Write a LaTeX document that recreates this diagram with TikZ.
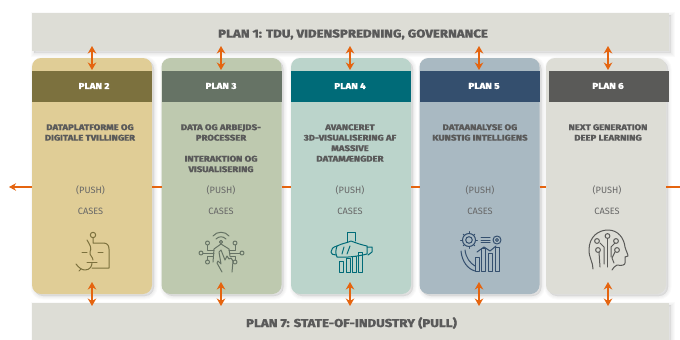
\documentclass[tikz,border=0pt]{standalone}
\usepackage{fontspec}
\setmainfont{Fira Sans}
\newfontfamily\heavyfont{Fira Sans ExtraBold}[FakeStretch=1.15,FakeBold=0.4]
\usetikzlibrary{arrows.meta,positioning,calc}
\definecolor{bandc}{HTML}{DDDDD6}
\definecolor{ca}{HTML}{E0CD96}\definecolor{ha}{HTML}{7C713E}
\definecolor{cb}{HTML}{BEC9AF}\definecolor{hb}{HTML}{667365}
\definecolor{cc}{HTML}{BBD4CB}\definecolor{hc}{HTML}{006B78}
\definecolor{cd}{HTML}{A9B9C2}\definecolor{hd}{HTML}{344F6E}
\definecolor{ce}{HTML}{DDDDD6}\definecolor{he}{HTML}{5A5A58}
\definecolor{orng}{HTML}{E5640F}
\definecolor{txt}{HTML}{5A5A5A}
\definecolor{smalltxt}{HTML}{666666}
\tikzset{
  x=1pt,y=-1pt,
  shadowlayer/.style={preaction={draw=black,fill=black,line width=#1,draw opacity=.02,fill opacity=.02,
        transform canvas={shift={(2pt,-2pt)}}}},
  softshadow/.style={shadowlayer=7pt,shadowlayer=5pt,shadowlayer=3pt,shadowlayer=1pt},
  band/.style={draw=none,fill=bandc,minimum width=637pt,minimum height=38pt,inner sep=0,softshadow,
               font=\heavyfont\fontsize{11.5}{12}\selectfont,text=txt},
  cardbox/.style={draw=none,rounded corners=9pt,minimum width=120pt,minimum height=236pt,inner sep=0,softshadow},
  headbox/.style={draw=none,minimum width=120pt,minimum height=30.5pt,inner sep=0},
  plantitle/.style={text=white,font=\heavyfont\fontsize{8.6}{9}\selectfont,inner sep=0},
  headline/.style={font=\heavyfont\fontsize{8.3}{10.5}\selectfont,text=txt,align=center,inner sep=0,anchor=north},
  small/.style={font=\fontsize{9.2}{10}\selectfont,text=smalltxt,inner sep=0},
  twoway/.style={draw=orng,line width=1.7pt,{Stealth[length=7.5pt,width=8.5pt]}-{Stealth[length=7.5pt,width=8.5pt]}},
  oneway/.style={draw=orng,line width=1.7pt,-{Stealth[length=7pt,width=7.5pt]}},
  linkline/.style={draw=orng,line width=1.7pt},
  icon/.style={line width=1pt,line cap=round,line join=round,fill=none}
}
\begin{document}
\begin{tikzpicture}
\useasboundingbox[fill=white] (0,0) rectangle (680,340);
\coordinate (leftend) at (9,187);
\coordinate (rightend) at (680,187);
% cards
\node[cardbox,fill=ca] (c2) at (92,176) {};
\node[cardbox,fill=cb] (c3) at (221.5,176) {};
\node[cardbox,fill=cc] (c4) at (351,176) {};
\node[cardbox,fill=cd] (c5) at (479.5,176) {};
\node[cardbox,fill=ce] (c6) at (606,176) {};
% horizontal links
\coordinate (a2) at (32,187);\coordinate (b2) at (152,187);
\coordinate (a3) at (161.5,187);\coordinate (b3) at (281.5,187);
\coordinate (a4) at (291,187);\coordinate (b4) at (411,187);
\coordinate (a5) at (419.5,187);\coordinate (b5) at (539.5,187);
\coordinate (a6) at (546,187);\coordinate (b6) at (666,187);
\draw[oneway] (a2) -- (leftend);
\draw[linkline] (b2) -- (a3);
\draw[linkline] (b3) -- (a4);
\draw[linkline] (b4) -- (a5);
\draw[linkline] (b5) -- (a6);
\draw[linkline] (b6) -- (rightend);
% headers
\node[headbox,fill=ha] (h2) at (92,86.7) {};
\node[headbox,fill=hb] (h3) at (221.5,86.7) {};
\node[headbox,fill=hc] (h4) at (351,86.7) {};
\node[headbox,fill=hd] (h5) at (479.5,86.7) {};
\node[headbox,fill=he] (h6) at (608.5,86.7) {};
\node[plantitle] (t2) at (94,86) {PLAN 2};
\node[plantitle] (t3) at (221,86) {PLAN 3};
\node[plantitle] (t4) at (350,86) {PLAN 4};
\node[plantitle] (t5) at (484,86) {PLAN 5};
\node[plantitle] (t6) at (608,86) {PLAN 6};
% bands
\node[band] (p1) at (350.5,32) {};
\node[font=\heavyfont\fontsize{11.5}{12}\selectfont,text=txt,inner sep=0] (p1t) at (353,34.5) {PLAN 1: TDU, VIDENSPREDNING, GOVERNANCE};
\node[band,minimum height=37pt] (p7) at (350.5,321.5) {};
\node[font=\heavyfont\fontsize{11.5}{12}\selectfont,text=txt,inner sep=0] (p7t) at (351.5,323) {PLAN 7: STATE-OF-INDUSTRY (PULL)};
% heading texts
\node[headline] (d2) at (90,124) {DATAPLATFORME OG\\DIGITALE TVILLINGER};
\node[headline] (d3) at (221,124) {DATA OG ARBEJDS-\\PROCESSER\\[10.5pt]INTERAKTION OG\\VISUALISERING};
\node[headline] (d4) at (350,124) {AVANCERET\\3D-VISUALISERING AF\\MASSIVE\\DATAMÆNGDER};
\node[headline] (d5) at (480,124) {DATAANALYSE OG\\KUNSTIG INTELLIGENS};
\node[headline] (d6) at (608,124) {NEXT GENERATION\\DEEP LEARNING};
% push / cases
\foreach \n/\x/\y in {2/90.5/90.5,3/221/221,4/350/350,5/480/480,6/607/607}{
  \node[small] (push\n) at (\x,190) {(PUSH)};
  \node[small] (cases\n) at (\y,211) {CASES};
}
% vertical arrows
\foreach \n/\x in {2/92,3/221,4/350,5/479,6/608}{
  \coordinate (u\n) at (\x,46);\coordinate (v\n) at (\x,70);
  \coordinate (w\n) at (\x,282);\coordinate (z\n) at (\x,306);
  \draw[twoway] (u\n) -- (v\n);
  \draw[twoway] (w\n) -- (z\n);
}
% icon plan 2
\begin{scope}[icon,draw=ha]
\draw (93,235) circle (2.7);
\draw (93,238) -- (93,243) -- (103,243) .. controls (107,243) and (109,245) .. (109,249) -- (109,268) -- (92,268);
\draw (87,240) .. controls (90,245) and (92,248) .. (90,252) .. controls (89,255) and (93,257) .. (93,260);
\draw (92,263) .. controls (92,266) and (90,270) .. (85,270) .. controls (82,270) and (79,268) .. (76,264);
\draw (79,271) -- (81,269);
\draw (82,252) -- (87,252) (98,252) -- (103,252) (87,262) -- (97,262);
\end{scope}
% icon plan 3
\begin{scope}[icon,draw=hb]
\draw (213,236) .. controls (217,231) and (225,231) .. (229,236);
\draw (216,239) .. controls (219,236) and (223,236) .. (226,239);
\draw (221,242) circle (1.6);
\draw (221,244) -- (214,249) -- (213,262) (221,244) -- (229,249) -- (230,256);
\foreach \cx/\cy in {207.5/243,235/243,201/253,242/253,207.5/262,235/262} \draw (\cx,\cy) circle (2);
\draw (207.5,245) -- (207.5,250) -- (214,250);
\draw (235,245) -- (235,250) -- (229,250);
\draw (203,253) -- (214,253) (240,253) -- (230,253);
\draw (207.5,260) -- (207.5,256) -- (213,256);
\draw (235,260) -- (235,256) -- (230,256);
\draw (222,272) -- (217,263) -- (218,261) -- (221,264) -- (219,252) -- (221,250) -- (225,260) -- (227,256) -- (229,259) -- (231,258) -- (233,261) -- (232,272);
\end{scope}
% icon plan 4
\begin{scope}[icon,draw=hc]
\draw (347,242) -- (347,232.5) -- (355,232.5) -- (355,241);
\draw (337,246) .. controls (333,247) and (331,249) .. (331,252) .. controls (331,254) and (333,255) .. (336,255);
\draw (337,246) .. controls (343,243) and (347,243) .. (351,241) .. controls (356,243) and (362,245) .. (367,246) -- (367,254) .. controls (360,256) and (345,258) .. (337,257) .. controls (335,253) and (336,249) .. (337,246);
\draw (367,247) -- (372,247) -- (372,252) -- (368,255);
\draw (342,254) -- (344,247) (347,254) -- (350,246);
\draw (339.5,261) rectangle (343.5,272);
\draw (346,258) rectangle (350,272);
\draw (352,256) rectangle (356,272);
\draw (358,252) rectangle (362,272);
\end{scope}
% icon plan 5
\begin{scope}[icon,draw=hd]
\draw (469,240) circle (3.3);
\draw (469,240) circle (6.5);
\foreach \a in {0,45,...,315} \draw ($(469,240)+(\a:6.5)$) -- ($(469,240)+(\a:8.3)$);
\draw (461,251) .. controls (462,262) and (468,269) .. (475,271);
\draw (465,250) .. controls (466,258) and (470,263) .. (475,266);
\draw (481,237) -- (490,237) (481,240) -- (490,240) (481,242) -- (490,242);
\draw (497,240) circle (4) (497,240) circle (1.5);
\draw (477,252) -- (484,247) -- (490,251) -- (496,246);
\draw (475,257) rectangle (479,271.5) (481,248) rectangle (485,271.5) (488,253) rectangle (492,271.5) (495,247) rectangle (499,271.5);
\end{scope}
% icon plan 6
\begin{scope}[icon,draw=he]
\draw (593,269) .. controls (593,262) and (589,258) .. (589,250) .. controls (589,237) and (598,230) .. (608,230) .. controls (618,230) and (624,238) .. (625,247) .. controls (626,251) and (628,254) .. (628,256) -- (625,257) -- (625,263) .. controls (625,265) and (622,266) .. (617,265) .. controls (615,266) and (613,268) .. (612,270);
\draw (607.5,236) circle (2.4) (597,241) circle (2.4) (616,241) circle (2.4) (598,250) circle (2.4) (617,250) circle (2.4);
\draw (607.5,238.5) -- (607.5,267);
\draw (600,243) -- (604,247) -- (604,264);
\draw (599,252) -- (600,267);
\draw (615,243) -- (611,247) -- (611,257);
\draw (615,252) -- (612,258) -- (614,263);
\end{scope}
\end{tikzpicture}
\end{document}
